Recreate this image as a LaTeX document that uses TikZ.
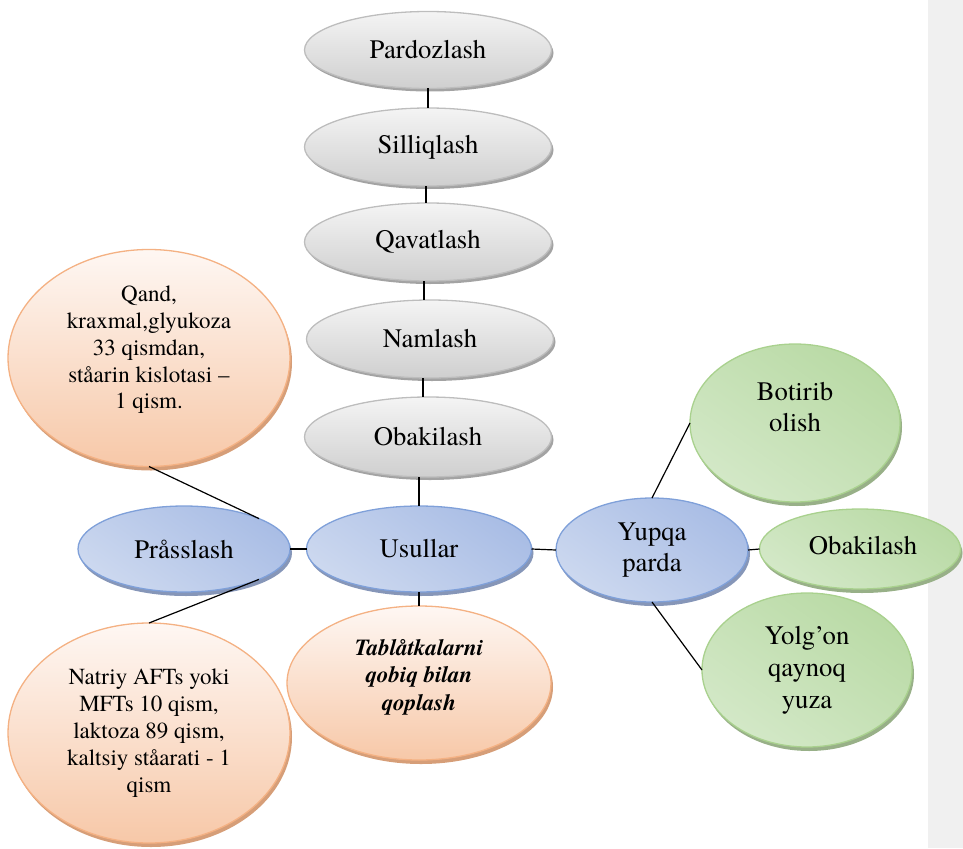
\documentclass[tikz,border=0pt]{standalone}
\usepackage{fontspec}
\setmainfont{texgyretermes}[Extension=.otf, UprightFont=*-regular,
  BoldFont=*-bold, ItalicFont=*-italic, BoldItalicFont=*-bolditalic]
\usetikzlibrary{shapes.geometric,shadows}

\definecolor{grayhi}{HTML}{F4F4F4}
\definecolor{graylo}{HTML}{CFCFCF}
\definecolor{grayedge}{HTML}{BDBDBD}
\definecolor{grayshade}{HTML}{A3A3A3}
\definecolor{bluedark}{HTML}{A9BDE5}
\definecolor{bluelight}{HTML}{DEE6F5}
\definecolor{bluemid}{HTML}{CCD8EF}
\definecolor{blueedge}{HTML}{7FA0D9}
\definecolor{blueshade}{HTML}{8696B8}
\definecolor{orangehi}{HTML}{FEF7F3}
\definecolor{orangelo}{HTML}{F7C8A8}
\definecolor{orangeedge}{HTML}{F4B183}
\definecolor{orangeshade}{HTML}{D69E78}
\definecolor{greendark}{HTML}{B9DAA5}
\definecolor{greenlight}{HTML}{E3F0DB}
\definecolor{greenmid}{HTML}{D3E8C7}
\definecolor{greenedge}{HTML}{A9D18E}
\definecolor{greenshade}{HTML}{98B088}
\definecolor{panel}{HTML}{F0F0F0}

\newcommand\bigtxt{\fontsize{26.7}{31}\selectfont}
\newcommand\smalltxt{\fontsize{23}{26.8}\selectfont}

\tikzset{
  ell/.style={ellipse, inner sep=0pt, outer sep=0pt, line width=1.3pt,
    align=center, font=\bigtxt},
  grayell/.style={ell, draw=grayedge, top color=grayhi, bottom color=graylo,
    drop shadow={shadow xshift=2pt, shadow yshift=-3pt, fill=grayshade, opacity=1}},
  blueell/.style={ell, draw=blueedge, top color=bluedark, middle color=bluelight,
    bottom color=bluemid, shading angle=-35,
    drop shadow={shadow xshift=2pt, shadow yshift=-4pt, fill=blueshade, opacity=1}},
  orangeell/.style={ell, draw=orangeedge, top color=orangehi, bottom color=orangelo,
    drop shadow={shadow xshift=2pt, shadow yshift=-4pt, fill=orangeshade, opacity=1}},
  greenell/.style={ell, draw=greenedge, top color=greendark, middle color=greenlight,
    bottom color=greenmid, shading angle=-35,
    drop shadow={shadow xshift=2pt, shadow yshift=-4pt, fill=greenshade, opacity=1}},
  txt/.style={align=center, inner sep=0pt},
  link/.style={line width=1.2pt, black},
}

\begin{document}
\begin{tikzpicture}[x=1pt, y=-1pt]
  \useasboundingbox (0,0) rectangle (963,848);
  % margin panel on the right
  \fill[panel] (928,0) rectangle (963,848);

  % vertical chain of processing steps
  \node[grayell, minimum width=247pt, minimum height=77pt] (pard) at (428,50)  {Pardozlash};
  \node[grayell, minimum width=247pt, minimum height=78pt] (sill) at (428,147) {Silliqlash};
  \node[grayell, minimum width=247pt, minimum height=78pt] (qav)  at (428,242) {Qavatlash};
  \node[grayell, minimum width=247pt, minimum height=78pt] (nam)  at (430,339) {Namlash};
  \node[grayell, minimum width=247pt, minimum height=80pt] (oba)  at (428,437) {Obakilash};

  % central row
  \node[blueell, minimum width=225pt, minimum height=86pt]  (usul) at (419,549) {Usullar};
  \node[blueell, minimum width=212pt, minimum height=86pt]  (pras) at (184,549) {Pråsslash};
  \node[blueell, minimum width=192pt, minimum height=104pt] (yup)  at (652,550) {Yupqa\\parda};

  % compositions for pressing
  \node[orangeell, minimum width=282pt, minimum height=217pt] (qand) at (149,358) {};
  \node[txt, font=\smalltxt] (qandT) at ([yshift=8pt]qand.center)
    {Qand,\\kraxmal,glyukoza\\33 qismdan,\\ståarin kislotasi –\\1 qism.};
  \node[orangeell, minimum width=282pt, minimum height=220pt] (natr) at (149,733) {};
  \node[txt, font=\fontsize{23}{27}\selectfont] (natrT) at (natr.center)
    {Natriy AFTs yoki\\MFTs 10 qism,\\laktoza 89 qism,\\kaltsiy ståarati - 1\\qism};

  % coating node
  \node[orangeell, minimum width=264pt, minimum height=154pt] (tabl) at (419,683) {};
  \node[txt, font=\fontsize{23}{27.5}\selectfont\bfseries\itshape] (tablT)
    at ([yshift=6pt]tabl.center) {Tablåtkalarni\\qobiq bilan\\qoplash};

  % thin-film methods
  \node[greenell, minimum width=210pt, minimum height=158pt] (bot) at (795,423) {};
  \node[txt, font=\bigtxt] (botT) at ([yshift=16pt]bot.center) {Botirib\\olish};
  \node[greenell, minimum width=201pt, minimum height=80pt] (obg) at (860,549) {};
  \node[txt, font=\bigtxt] (obgT) at ([xshift=3pt, yshift=3pt]obg.center) {Obakilash};
  \node[greenell, minimum width=210pt, minimum height=154pt] (yol) at (807,670) {};
  \node[txt, font=\fontsize{26.7}{32}\selectfont] (yolT) at (yol.center) {Yolg’on\\qaynoq\\yuza};

  % connectors
  \draw[link] (pard.south) -- (sill.north);
  \draw[link] ([xshift=-2pt]sill.south) -- ([xshift=-2pt]qav.north);
  \draw[link] ([xshift=-4pt]qav.south) -- ([xshift=-4pt]qav.south |- nam.north);
  \draw[link] ([xshift=-5pt]oba.north |- nam.south) -- ([xshift=-5pt]oba.north);
  \draw[link] (usul.north |- oba.south) -- (usul.north);
  \draw[link] (usul.south) -- (tabl.north);
  \draw[link] (pras.east) -- (usul.west);
  \draw[link] (usul.east) -- (yup.west);
  \draw[link] (qand.south) -- (pras.north east);
  \draw[link] (pras.south east) -- (natr.north);
  \draw[link] (yup.north) -- (bot.west);
  \draw[link] (yup.east) -- (obg.west);
  \draw[link] (yup.south) -- (yol.west);
\end{tikzpicture}
\end{document}
